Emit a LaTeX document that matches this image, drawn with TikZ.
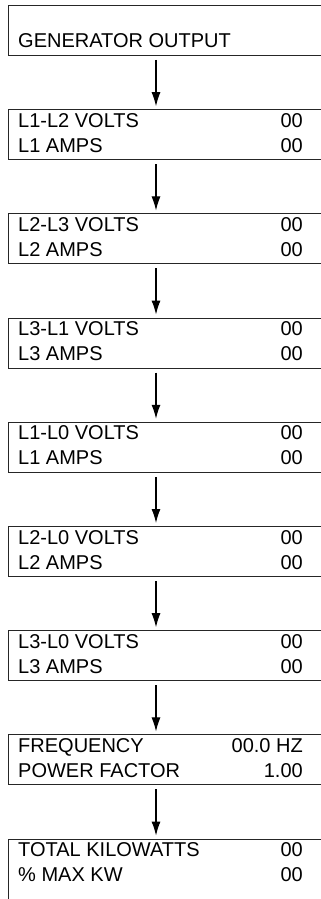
\documentclass[tikz,border=0pt]{standalone}
\usepackage{fontspec}
\setmainfont{Liberation Sans}
\usetikzlibrary{arrows.meta}
\tikzset{
  panel/.style={draw=black!85, line width=1pt, minimum width=330pt, minimum height=50pt, anchor=north west, inner sep=0pt},
  rowtxt/.style={font=\fontsize{20}{25}\selectfont, inner sep=0pt},
  flow/.style={-{Latex[length=14pt,width=9pt]}, line width=1.1pt, shorten <=4pt, shorten >=3pt},
}
\begin{document}
\begin{tikzpicture}[x=1pt, y=-1pt]
  \useasboundingbox (0,0) rectangle (321,899);
  \clip (0,0) rectangle (321,899);

  % first panel, one line only
  \node[panel] (b0) at (8,5) {};
  \node[rowtxt, anchor=base west] (b0-b) at ([shift={(10,43)}]b0.north west) {GENERATOR OUTPUT};

  % readout panels
  \foreach \k/\h/\la/\ra/\lb/\rb in {
      1/50/L1-L2 VOLTS/00/L1 AMPS/00,
      2/50/L2-L3 VOLTS/00/L2 AMPS/00,
      3/50/L3-L1 VOLTS/00/L3 AMPS/00,
      4/50/L1-L0 VOLTS/00/L1 AMPS/00,
      5/50/L2-L0 VOLTS/00/L2 AMPS/00,
      6/50/L3-L0 VOLTS/00/L3 AMPS/00,
      7/50/FREQUENCY/00.0 HZ/POWER FACTOR/1.00,
      8/80/TOTAL KILOWATTS/00/\% MAX KW/00} {
    \node[panel, minimum height=\h pt] (b\k) at (8, {5+104.2*\k}) {};
    \node[rowtxt, anchor=base west] (b\k-a) at ([shift={(10,18)}]b\k.north west) {\la};
    \node[rowtxt, anchor=base east] (b\k-av) at ([shift={(295,18)}]b\k.north west) {\ra};
    \node[rowtxt, anchor=base west] (b\k-b) at ([shift={(10,43)}]b\k.north west) {\lb};
    \node[rowtxt, anchor=base east] (b\k-bv) at ([shift={(295,43)}]b\k.north west) {\rb};
  }

  % arrows between panels
  \foreach \k [evaluate=\k as \j using int(\k+1)] in {0,...,7}
    \draw[flow] ([xshift=148pt]b\k.south west) -- ([xshift=148pt]b\j.north west);
\end{tikzpicture}
\end{document}
